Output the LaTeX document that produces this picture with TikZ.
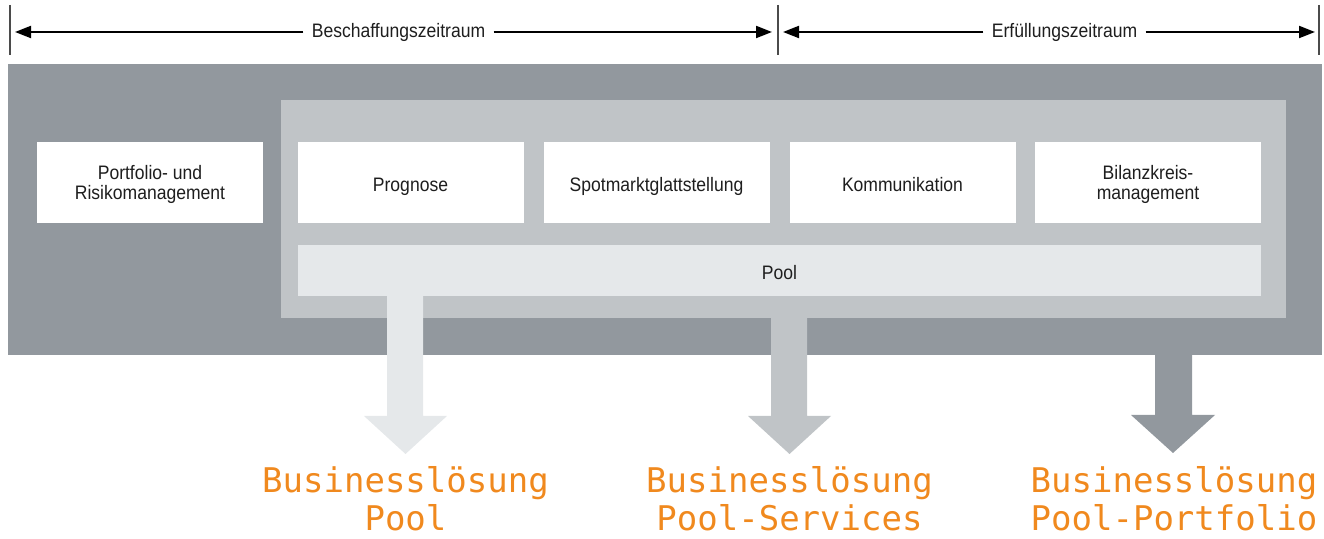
\documentclass[tikz,border=0pt]{standalone}
\usepackage{fontspec}
\setmainfont{Liberation Sans}[FakeStretch=0.9]
\newfontfamily\loesungfont{DejaVu Sans Mono}
\usepackage{xcolor}
\usepackage{tikz}
\usetikzlibrary{calc,arrows.meta}

\definecolor{dunkelgrau}{HTML}{92989E}
\definecolor{mittelgrau}{HTML}{C0C4C7}
\definecolor{hellgrau}{HTML}{E5E8EA}
\definecolor{loesungorange}{HTML}{F0891E}
\definecolor{schrift}{HTML}{1E1E1E}

\begin{document}
\begin{tikzpicture}[x=0.5pt,y=-0.5pt,
		baustein/.style={fill=white,minimum width=113pt,minimum height=40.5pt,inner sep=0pt,align=center,text=schrift,font=\fontsize{9.75}{10}\selectfont,text height=1.2em,text depth=0.25em},
		zweizeilig/.style={text height=,text depth=0pt},
		zeitraum/.style={inner sep=4pt,text=schrift,font=\fontsize{9.75}{10}\selectfont},
		zeitpfeil/.style={line width=1pt,-{Triangle[length=8pt,width=6pt]}},
		marke/.style={line width=0.6pt,draw=schrift!80},
		loesung/.style={align=center,inner sep=0pt,text=loesungorange,font=\loesungfont\fontsize{17}{19}\selectfont}]
			\useasboundingbox (0,0) rectangle (1324,539);
			% Zeitraeume
			\coordinate (m1) at (10,32);
			\coordinate (m2) at (778,32);
			\coordinate (m3) at (1319,32);
			\draw[marke] (10,5) -- (10,55);
			\draw[marke] (778,5) -- (778,55);
			\draw[marke] (1319,5) -- (1319,55);
			\node[zeitraum] (beschaffung) at (398.5,32) {Beschaffungszeitraum};
			\node[zeitraum] (erfuellung) at (1064.5,32) {Erfüllungszeitraum};
			\draw[zeitpfeil] (beschaffung.west) -- ($(m1)+(5,0)$);
			\draw[zeitpfeil] (beschaffung.east) -- ($(m2)+(-6,0)$);
			\draw[zeitpfeil] (erfuellung.west) -- ($(m2)+(5,0)$);
			\draw[zeitpfeil] (erfuellung.east) -- ($(m3)+(-4,0)$);
			% Rahmen
			\fill[dunkelgrau] (8,64) rectangle (1322,355);
			\fill[mittelgrau] (281,100) rectangle (1286,318);
			% Bausteine
			\node[baustein,zweizeilig] (portfolio) at (150,182.5) {Portfolio- und\\Risikomanagement};
			\node[baustein] (prognose) at (410.5,182.5) {Prognose};
			\node[baustein] (spotmarkt) at (656.5,182.5) {Spotmarktglattstellung};
			\node[baustein] (kommunikation) at (902.5,182.5) {Kommunikation};
			\node[baustein,zweizeilig] (bilanzkreis) at (1148,182.5) {Bilanzkreis-\\management};
			\node[baustein,fill=hellgrau,minimum width=481.5pt,minimum height=25.5pt] (pool) at (779.5,270.5) {Pool};
			% Pfeile
			\fill[hellgrau] (387,296) -- (387,416) -- (364,416) -- (405.5,454) -- (447,416) -- (423,416) -- (423,296) -- cycle;
			\fill[mittelgrau] (771,318) -- (771,416) -- (748,416) -- (789.5,454) -- (831,416) -- (807,416) -- (807,318) -- cycle;
			\fill[dunkelgrau] (1155,355) -- (1155,415) -- (1131,415) -- (1173,453) -- (1215,415) -- (1192,415) -- (1192,355) -- cycle;
			% Loesungen
			\node[loesung] (loesungpool) at (405.5,499) {Businesslösung\\Pool};
			\node[loesung] (loesungservices) at (789.5,499) {Businesslösung\\Pool-Services};
			\node[loesung] (loesungportfolio) at (1174,499) {Businesslösung\\Pool-Portfolio};
		\end{tikzpicture}
\end{document}
